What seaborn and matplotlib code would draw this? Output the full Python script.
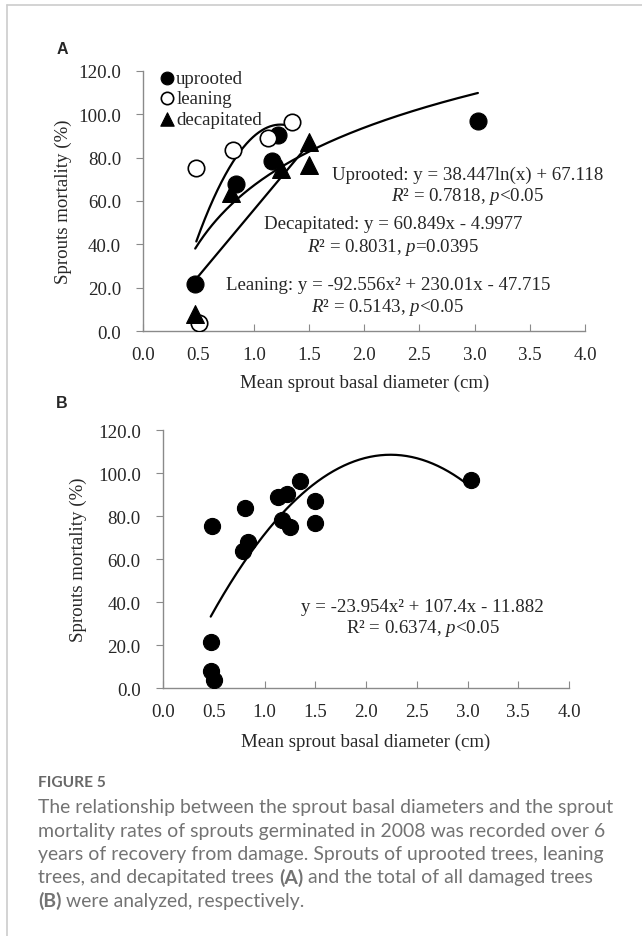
import numpy as np
import pandas as pd
import matplotlib
matplotlib.use("Agg")
import matplotlib.pyplot as plt
import seaborn as sns
from matplotlib.lines import Line2D

# sprout data (diameter cm, mortality %)
uprooted_x = [0.47, 0.84, 1.17, 1.22, 3.03]
uprooted_y = [21.6, 68.0, 78.4, 90.4, 96.7]
leaning_x = [0.48, 0.81, 1.13, 1.35, 0.50]
leaning_y = [75.4, 83.6, 88.8, 96.4, 4.0]
decapitated_x = [0.47, 0.79, 1.25, 1.50, 1.50]
decapitated_y = [8.0, 63.7, 74.8, 87.2, 76.6]

# trendline coefficients printed on the chart
fit_uprooted = [38.447, 67.118]          # a*ln(x) + b
fit_decapitated = [60.849, -4.9977]      # a*x + b
fit_leaning = [-92.556, 230.01, -47.715]  # a*x^2 + b*x + c
fit_total = [-23.954, 107.4, -11.882]

x_ticks = [0.0, 0.5, 1.0, 1.5, 2.0, 2.5, 3.0, 3.5, 4.0]
y_ticks = [0, 20, 40, 60, 80, 100, 120]

eq_uprooted = ["Uprooted: y = 38.447ln(x) + 67.118", "$R$² = 0.7818, $p$<0.05"]
eq_decapitated = ["Decapitated: y = 60.849x - 4.9977", "$R$² = 0.8031, $p$=0.0395"]
eq_leaning = ["Leaning: y = -92.556x² + 230.01x - 47.715", "$R$² = 0.5143, $p$<0.05"]
eq_total = ["y = -23.954x² + 107.4x - 11.882", "R² = 0.6374, $p$<0.05"]

xlabel = "Mean sprout basal diameter (cm)"
ylabel = "Sprouts mortality (%)"

caption_title = "FIGURE 5"
caption_lines = [
    [("The relationship between the sprout basal diameters and the sprout", "normal")],
    [("mortality rates of sprouts germinated in 2008 was recorded over 6", "normal")],
    [("years of recovery from damage. Sprouts of uprooted trees, leaning", "normal")],
    [("trees, and decapitated trees", "normal"), ("(A)", "bold"),
     ("and the total of all damaged trees", "normal")],
    [("(B)", "bold"), ("were analyzed, respectively.", "normal")],
]

sns.set_style("ticks")
plt.rcParams["font.family"] = ["Liberation Serif", "DejaVu Serif"]
plt.rcParams["mathtext.fontset"] = "custom"
plt.rcParams["mathtext.rm"] = "Liberation Serif"
plt.rcParams["mathtext.it"] = "Liberation Serif:italic"

FS = 13.6
W, H = 642, 937
fig = plt.figure(figsize=(W / 100, H / 100), dpi=100)


def px_box(l, t, r, b):
    return [l / W, 1 - b / H, (r - l) / W, (b - t) / H]


axA = fig.add_axes(px_box(143.3, 71.7, 585, 332.3))
axB = fig.add_axes(px_box(163, 431, 569, 689.3))

AX_GREY = "#8a8a8a"


def style_axes(ax, ylab_x, xlab_y):
    ax.set_xlim(0, 4)
    ax.set_ylim(0, 120)
    ax.set_xticks(x_ticks)
    ax.set_yticks(y_ticks)
    ax.xaxis.set_major_formatter("{x:.1f}")
    ax.yaxis.set_major_formatter("{x:.1f}")
    sns.despine(ax=ax)
    for s in ["left", "bottom"]:
        ax.spines[s].set_color(AX_GREY)
        ax.spines[s].set_linewidth(1.0)
    ax.tick_params(axis="x", direction="in", length=5, color=AX_GREY, pad=10.5, labelsize=FS)
    ax.tick_params(axis="y", direction="out", length=5, color=AX_GREY, pad=11, labelsize=FS)
    ax.set_xlabel(xlabel, fontsize=FS, va="center")
    ax.set_ylabel(ylabel, fontsize=FS, va="center", ha="center")
    ax.xaxis.set_label_coords(0.5, xlab_y)
    ax.yaxis.set_label_coords(ylab_x, 0.5)
    ax.set_facecolor("none")


# ---- panel A
up = pd.DataFrame({"x": uprooted_x, "y": uprooted_y})
le = pd.DataFrame({"x": leaning_x, "y": leaning_y})
de = pd.DataFrame({"x": decapitated_x, "y": decapitated_y})

sns.scatterplot(data=up, x="x", y="y", ax=axA, marker="o", s=150, color="black",
                edgecolor="black", linewidth=0.8, label="uprooted", zorder=3)
sns.scatterplot(data=le, x="x", y="y", ax=axA, marker="o", s=140, facecolor="white",
                edgecolor="black", linewidth=1.2, label="leaning", zorder=3)
sns.scatterplot(data=de, x="x", y="y", ax=axA, marker="^", s=165, color="black",
                edgecolor="black", linewidth=0.8, label="decapitated", zorder=3)

xu = np.linspace(min(uprooted_x), max(uprooted_x), 200)
sns.lineplot(x=xu, y=fit_uprooted[0] * np.log(xu) + fit_uprooted[1], ax=axA,
             color="black", lw=1.6, zorder=2)
xd = np.linspace(min(decapitated_x), max(decapitated_x), 50)
sns.lineplot(x=xd, y=np.polyval(fit_decapitated, xd), ax=axA, color="black", lw=1.6, zorder=2)
xl = np.linspace(min(leaning_x), max(leaning_x), 200)
sns.lineplot(x=xl, y=np.polyval(fit_leaning, xl), ax=axA, color="black", lw=1.6, zorder=2)

axA.legend(loc="upper left", bbox_to_anchor=(0.036, 1.004), frameon=False, fontsize=FS,
           handlelength=0.8, handletextpad=0.1, labelspacing=0.17, borderaxespad=0,
           borderpad=0, markerscale=0.75)

style_axes(axA, -0.182, -0.1945)

for lines, (cx, y1, y2) in [(eq_uprooted, (0.735, 0.604, 0.523)),
                            (eq_decapitated, (0.566, 0.412, 0.327)),
                            (eq_leaning, (0.554, 0.178, 0.097))]:
    axA.text(cx, y1, lines[0], transform=axA.transAxes, ha="center", va="center", fontsize=FS)
    axA.text(cx, y2, lines[1], transform=axA.transAxes, ha="center", va="center", fontsize=FS)

# ---- panel B: all damaged trees together
total = pd.concat([up, le, de], ignore_index=True)
sns.scatterplot(data=total, x="x", y="y", ax=axB, marker="o", s=135, color="black",
                edgecolor="black", linewidth=0.8, zorder=3)
xt = np.linspace(total["x"].min(), total["x"].max(), 200)
sns.lineplot(x=xt, y=np.polyval(fit_total, xt), ax=axB, color="black", lw=1.6, zorder=2)
style_axes(axB, -0.209, -0.205)
axB.text(0.640, 0.318, eq_total[0], transform=axB.transAxes, ha="center", va="center", fontsize=FS)
axB.text(0.640, 0.236, eq_total[1], transform=axB.transAxes, ha="center", va="center", fontsize=FS)

# panel letters
fig.text(62 / W, 1 - 50 / H, "A", family=["Liberation Sans"], weight="bold", fontsize=11.5,
         ha="center", va="center")
fig.text(62 / W, 1 - 403 / H, "B", family=["Liberation Sans"], weight="bold", fontsize=11.5,
         ha="center", va="center")

# page frame
fig.add_artist(Line2D([7 / W, 1], [1 - 6 / H, 1 - 6 / H], color="#cccccc", lw=1.2))
fig.add_artist(Line2D([7 / W, 7 / W], [0, 1 - 6 / H], color="#cccccc", lw=1.2))

# caption
CAP = ["Lato", "DejaVu Sans"]
cap_color = "#737373"
renderer = fig.canvas.get_renderer()


def text_width(s, size, weight):
    t = fig.text(0, 0, s, fontsize=size, fontweight=weight, family=CAP)
    w = t.get_window_extent(renderer).width
    t.remove()
    return w


size = 11.0
size = size * 573 / text_width(caption_lines[0][0][0], size, "normal")
space = text_width("a a", size, "normal") - text_width("aa", size, "normal")

fig.text(38 / W, 1 - 783 / H, caption_title, fontsize=size * 0.8, fontweight="bold",
         family=CAP, color="#686868", ha="left", va="center")
for i, pieces in enumerate(caption_lines):
    x = 38.0
    y = 808 + i * 23.3
    for s, weight in pieces:
        fig.text(x / W, 1 - y / H, s, fontsize=size, fontweight=weight, family=CAP,
                 color=cap_color, ha="left", va="center")
        x += text_width(s, size, weight) + space

fig.savefig("out.png", dpi=100)
